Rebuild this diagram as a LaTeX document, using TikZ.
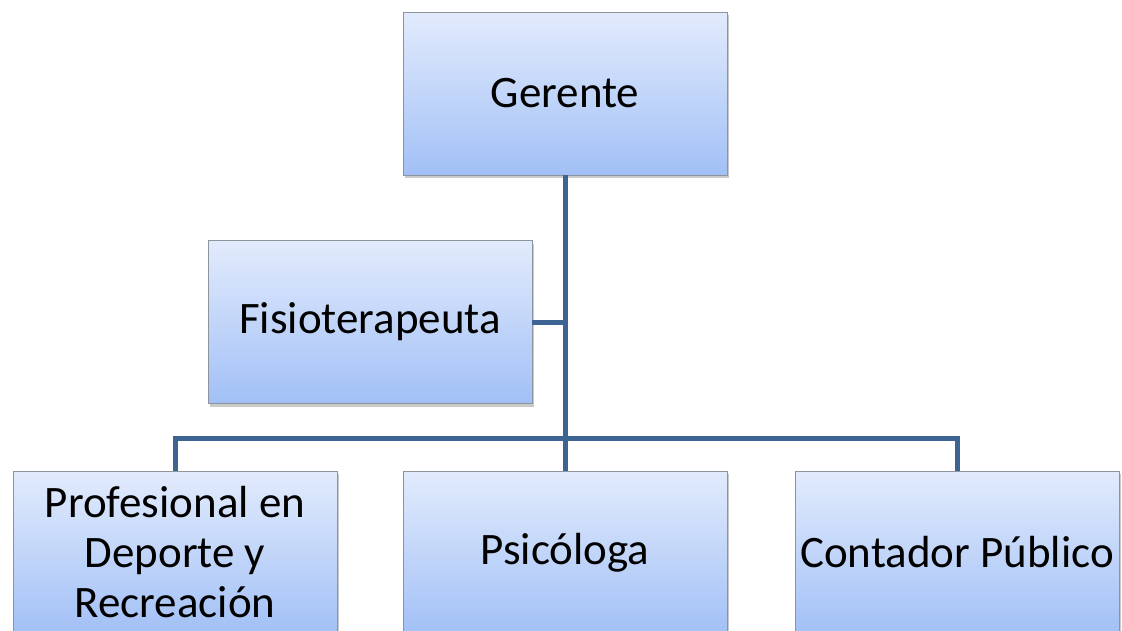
\documentclass[tikz,border=0pt]{standalone}
\usepackage{fontspec}
\setmainfont{Carlito}
\usetikzlibrary{shadows}
\definecolor{boxtop}{HTML}{E2EBFC}
\definecolor{boxbot}{HTML}{A2C0F6}
\definecolor{boxedge}{HTML}{8E949C}
\definecolor{conn}{HTML}{3E6494}
\tikzset{
  orgbox/.style={draw=boxedge, line width=0.8pt, top color=boxtop, bottom color=boxbot,
    minimum width=324pt, minimum height=163pt, inner sep=0pt, align=center,
    font=\fontsize{45pt}{50pt}\selectfont,
    drop shadow={shadow xshift=2pt, shadow yshift=-3pt, opacity=0.35, fill=black!60}},
  link/.style={draw=conn, line width=5pt}
}
\begin{document}
\begin{tikzpicture}[x=1pt,y=-1pt]
\useasboundingbox (0,0) rectangle (1122,630);
\clip (0,0) rectangle (1122,630);
\node[orgbox] (ger) at (565,93.5) {Gerente};
\node[orgbox] (fis) at (370,322) {Fisioterapeuta};
\node[orgbox] (pro) at (175,552.5) {Profesional en\\Deporte y\\Recreación};
\node[orgbox] (psi) at (565,552.5) {Psicóloga};
\node[orgbox] (con) at (957,552.5) {Contador Público};
\coordinate (bus) at (565,438);
\draw[link] (ger.south) -- (bus);
\draw[link] (fis.east) -- (fis.east -| ger.south);
\draw[link] (bus) -- (psi.north);
\draw[link] (pro.north) |- (bus) -| (con.north);
\end{tikzpicture}
\end{document}
